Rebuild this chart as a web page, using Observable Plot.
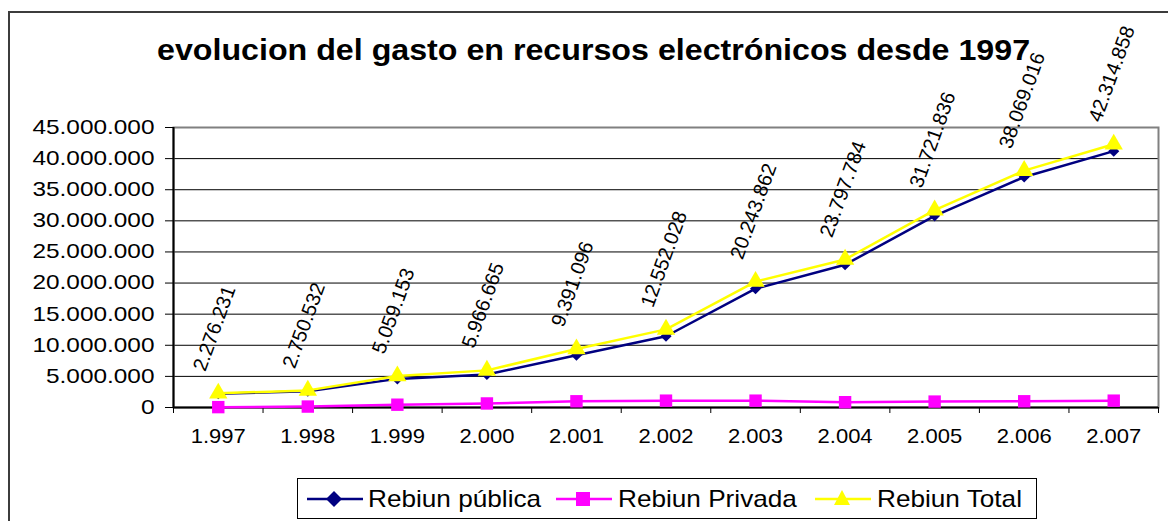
<!DOCTYPE html>
<html>
<head>
<meta charset="utf-8">
<script src="https://cdn.jsdelivr.net/npm/d3@7"></script>
<script src="https://cdn.jsdelivr.net/npm/@observablehq/plot@0.6"></script>
<style>
  html, body { margin: 0; padding: 0; background: #fff; }
  body { font-family: "Liberation Sans", Arial, sans-serif; }
  #wrap { position: relative; width: 1168px; height: 521px; overflow: hidden; }
  #outer { position: absolute; left: 8px; top: 11px; width: 1300px; height: 700px;
           border-left: 2px solid #3c3c3c; border-top: 2px solid #3c3c3c; box-sizing: border-box; }
  #chart { position: absolute; left: 0; top: 0; }
  #title { position: absolute; left: 157px; top: 36px; font-size: 29px; line-height: 29px;
           font-weight: bold; white-space: nowrap; color: #000;
           transform: scaleX(1.11); transform-origin: 0 0; }
  #legend { position: absolute; left: 297px; top: 478px; width: 740px; height: 41px;
            border: 1px solid #000; box-sizing: border-box; background: #fff; }
  .lg-sym { position: absolute; top: 0; }
  .lg-txt { position: absolute; top: 5px; font-size: 24px; line-height: 30px; white-space: nowrap; color: #000;
            transform: scaleX(1.09); transform-origin: 0 0; }
</style>
</head>
<body>
<div id="wrap">
  <div id="outer"></div>
  <div id="chart"></div>
  <div id="title">evolucion del gasto en recursos electrónicos desde 1997</div>
  <div id="legend"></div>
</div>
<script>
// ---- data ----
const years = [1997, 1998, 1999, 2000, 2001, 2002, 2003, 2004, 2005, 2006, 2007];
const publica = [2200000, 2600000, 4600000, 5300000, 8400000, 11450000, 19100000, 22950000, 30800000, 37050000, 41200000];
const privada = [60000, 150000, 450000, 650000, 1000000, 1100000, 1100000, 850000, 950000, 1000000, 1100000];
const total = [2276231, 2750532, 5059153, 5966665, 9391096, 12552028, 20243862, 23797784, 31721836, 38069016, 42314858];
const yTicks = [0, 5000000, 10000000, 15000000, 20000000, 25000000, 30000000, 35000000, 40000000, 45000000];
const seriesNames = ["Rebiun pública", "Rebiun Privada", "Rebiun Total"];
const seriesColors = ["#000080", "#FF00FF", "#FFFF00"];

const loc = d3.formatLocale({decimal: ",", thousands: ".", grouping: [3], currency: ["", "€"]});
const fmt = loc.format(",d");

const rowsPub = years.map((y, i) => ({year: y, value: publica[i]}));
const rowsPriv = years.map((y, i) => ({year: y, value: privada[i]}));
const rowsTot = years.map((y, i) => ({year: y, value: total[i]}));
const bounds = [years[0] - 0.5, ...years.map(y => y + 0.5)];

const chart = Plot.plot({
  width: 1168,
  height: 457,
  marginLeft: 173,
  marginRight: 10,
  marginTop: 127,
  marginBottom: 50,
  style: {fontFamily: "'Liberation Sans', Arial, sans-serif", fontSize: "20px", background: "transparent", color: "#000"},
  x: {domain: [years[0] - 0.5, years[years.length - 1] + 0.5]},
  y: {domain: [0, 45000000]},
  marks: [
    Plot.ruleY(yTicks, {stroke: "#000", strokeWidth: 1}),
    Plot.frame({stroke: "#808080", strokeWidth: 2}),
    Plot.ruleX([years[0] - 0.5], {stroke: "#000", strokeWidth: 2}),
    Plot.ruleY([0], {stroke: "#000", strokeWidth: 2}),
    Plot.axisY(yTicks, {tickSize: 8, tickPadding: 11, fontSize: 20, tickFormat: fmt, label: null, stroke: "#000"}),
    Plot.axisX(bounds, {tickSize: 6, tickFormat: () => "", label: null, stroke: "#000"}),
    Plot.axisX(years, {tickSize: 0, tickPadding: 21, fontSize: 20, tickFormat: fmt, label: null}),
    // Rebiun pública
    Plot.line(rowsPub, {x: "year", y: "value", stroke: seriesColors[0], strokeWidth: 2.5}),
    Plot.dot(rowsPub, {x: "year", y: "value", symbol: "diamond2", r: 5, fill: seriesColors[0], stroke: "none"}),
    // Rebiun Privada
    Plot.line(rowsPriv, {x: "year", y: "value", stroke: seriesColors[1], strokeWidth: 2.5}),
    Plot.dot(rowsPriv, {x: "year", y: "value", symbol: "square", r: 7, fill: seriesColors[1], stroke: "none"}),
    // Rebiun Total
    Plot.line(rowsTot, {x: "year", y: "value", stroke: seriesColors[2], strokeWidth: 2.5}),
    Plot.dot(rowsTot, {x: "year", y: "value", symbol: "triangle", r: 6.8, fill: seriesColors[2], stroke: "none"}),
    Plot.text(rowsTot, {x: "year", y: "value", text: d => fmt(d.value), rotate: -70,
      textAnchor: "start", lineAnchor: "bottom", dx: -13, dy: -21, fontSize: 20, fill: "#000"})
  ]
});

// widen tick labels as in the reference
d3.select(chart).selectAll('g[aria-label="y-axis tick label"] text').each(function() {
  const t = this.getAttribute("transform") || "";
  this.setAttribute("transform", t + " scale(1.22,1)");
});
d3.select(chart).selectAll('g[aria-label="x-axis tick label"] text').each(function() {
  const t = this.getAttribute("transform") || "";
  this.setAttribute("transform", t + " scale(1.1,1)");
});
document.getElementById("chart").appendChild(chart);

// legend
const legend = document.getElementById("legend");
const symX = [9, 258, 517];   // offsets inside legend box
const txtX = [70, 320, 579];
const symbolsSvg = [
  `<polygon points="27,8 35,16 27,24 19,16" fill="${seriesColors[0]}"/>`,
  `<rect x="20" y="9" width="14" height="14" fill="${seriesColors[1]}"/>`,
  `<polygon points="27,7 35,22 19,22" fill="${seriesColors[2]}"/>`
];
seriesNames.forEach((name, i) => {
  const s = document.createElement("div");
  s.className = "lg-sym";
  s.style.left = symX[i] + "px";
  s.style.top = "4px";
  s.innerHTML = `<svg width="56" height="32"><line x1="0" x2="56" y1="16" y2="16" stroke="${seriesColors[i]}" stroke-width="2.5"/>${symbolsSvg[i]}</svg>`;
  legend.appendChild(s);
  const t = document.createElement("div");
  t.className = "lg-txt";
  t.style.left = txtX[i] + "px";
  t.textContent = name;
  legend.appendChild(t);
});
</script>
</body>
</html>
